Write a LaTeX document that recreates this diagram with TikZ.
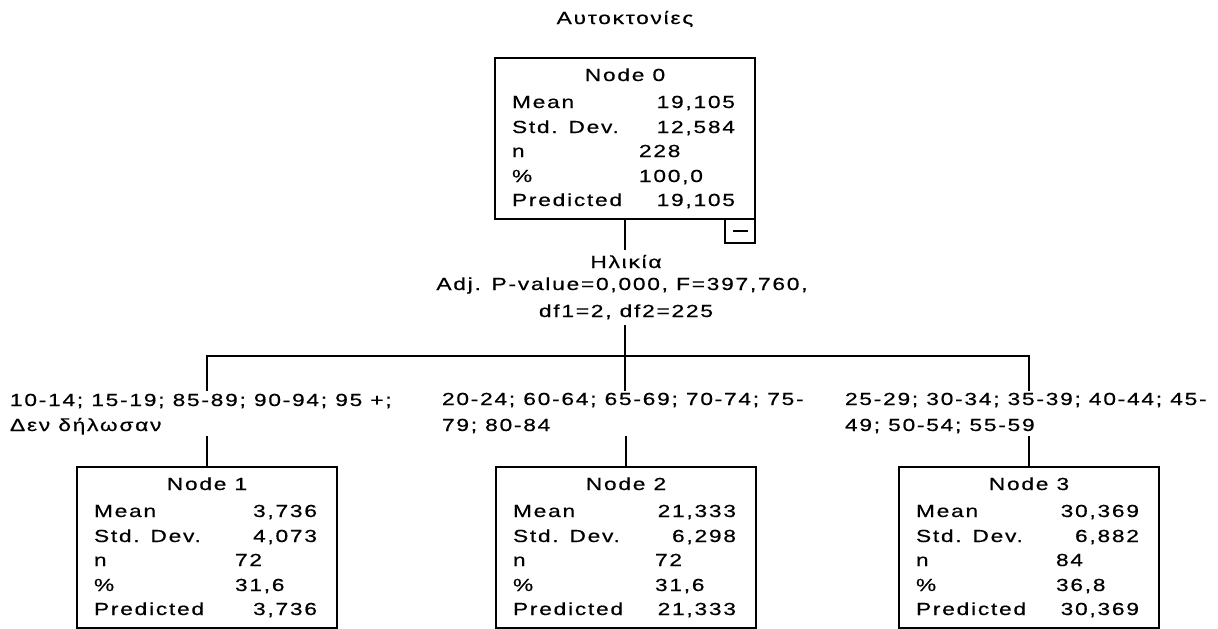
\documentclass[tikz,border=0pt]{standalone}
\usepackage{fontspec}
\setmainfont{Liberation Sans}[FakeStretch=1.3, LetterSpace=10, FakeBold=0.5]
\usetikzlibrary{calc}
\tikzset{
  txt/.style={inner sep=0pt, outer sep=0pt, font=\fontsize{17.5}{20}\selectfont, text=black},
  box/.style={draw, line width=1.8pt, minimum width=260pt, minimum height=161pt, inner sep=0pt, outer sep=0pt},
  conn/.style={line width=1.8pt},
}
\newcommand\statbox[9]{%
  \node[box] (#1) at (#2,{#3-80.5}) {};
  \node[txt, anchor=base] (#1-t) at ($(#1.north)+(0,-23)$) {#4};
  \node[txt, anchor=base west] (#1-l1) at ($(#1.north west)+(17,-50)$) {Mean};
  \node[txt, anchor=base west] (#1-l2) at ($(#1.north west)+(17,-75)$) {Std. Dev.};
  \node[txt, anchor=base west] (#1-l3) at ($(#1.north west)+(17,-99)$) {n};
  \node[txt, anchor=base west] (#1-l4) at ($(#1.north west)+(17,-124)$) {\%};
  \node[txt, anchor=base west] (#1-l5) at ($(#1.north west)+(17,-148)$) {Predicted};
  \node[txt, anchor=base east] (#1-v1) at ($(#1.north east)+(-20,-50)$) {#5};
  \node[txt, anchor=base east] (#1-v2) at ($(#1.north east)+(-20,-75)$) {#6};
  \node[txt, anchor=base west] (#1-v3) at ($(#1.north west)+(#9,-99)$) {#7};
  \node[txt, anchor=base west] (#1-v4) at ($(#1.north west)+(#9,-124)$) {#8};
  \node[txt, anchor=base east] (#1-v5) at ($(#1.north east)+(-20,-148)$) {#5};
}
\begin{document}
\begin{tikzpicture}[x=1pt,y=1pt]
\useasboundingbox (0,0) rectangle (1218,-629);
\fill[white] (0,0) rectangle (1218,-629);

\node[txt, anchor=base] (title) at (625,-24) {Αυτοκτονίες};

\statbox{n0}{625}{-58}{Node 0}{19,105}{12,584}{228}{100,0}{144}
\statbox{n1}{207}{-467}{Node 1}{3,736}{4,073}{72}{31,6}{158}
\statbox{n2}{626}{-467}{Node 2}{21,333}{6,298}{72}{31,6}{159}
\statbox{n3}{1029}{-467}{Node 3}{30,369}{6,882}{84}{36,8}{157}

% collapse box
\node[box, minimum width=30pt, minimum height=24pt, anchor=north east] (mb) at (n0.south east) {};
\draw[line width=1.3pt] ($(mb.west)+(8,0)$) -- ($(mb.east)+(-7,0)$);

% split label
\node[txt, anchor=base] (sp1) at (626,-268) {Ηλικία};
\node[txt, anchor=base] (sp2) at (622,-290) {Adj. P-value=0,000, F=397,760,};
\node[txt, anchor=base] (sp3) at (626,-317) {df1=2, df2=225};

% branch labels
\node[txt, anchor=base west] (b1a) at (10,-406) {10-14; 15-19; 85-89; 90-94; 95 +;};
\node[txt, anchor=base west] (b1b) at (10,-431) {Δεν δήλωσαν};
\node[txt, anchor=base west] (b2a) at (442,-405) {20-24; 60-64; 65-69; 70-74; 75-};
\node[txt, anchor=base west] (b2b) at (442,-431) {79; 80-84};
\node[txt, anchor=base west] (b3a) at (845,-405) {25-29; 30-34; 35-39; 40-44; 45-};
\node[txt, anchor=base west] (b3b) at (845,-431) {49; 50-54; 55-59};

% connector coordinates
\coordinate (s0) at (625,-250);
\coordinate (s1) at (625,-325);
\coordinate (jl) at (207,-356);
\coordinate (jr) at (1029,-356);
\coordinate (el) at (207,-391);
\coordinate (em) at (625,-391);
\coordinate (er) at (1029,-391);
\coordinate (t1) at (207,-436);
\coordinate (t2) at (626,-436);
\coordinate (t3) at (1029,-436);

\draw[conn] (n0.south -| s0) -- (s0);
\draw[conn] (s1) -- (em);
\draw[conn] (el) -- (jl) -- (jr) -- (er);
\draw[conn] (t1) -- (n1.north);
\draw[conn] (t2) -- (n2.north);
\draw[conn] (t3) -- (n3.north);
\end{tikzpicture}
\end{document}
